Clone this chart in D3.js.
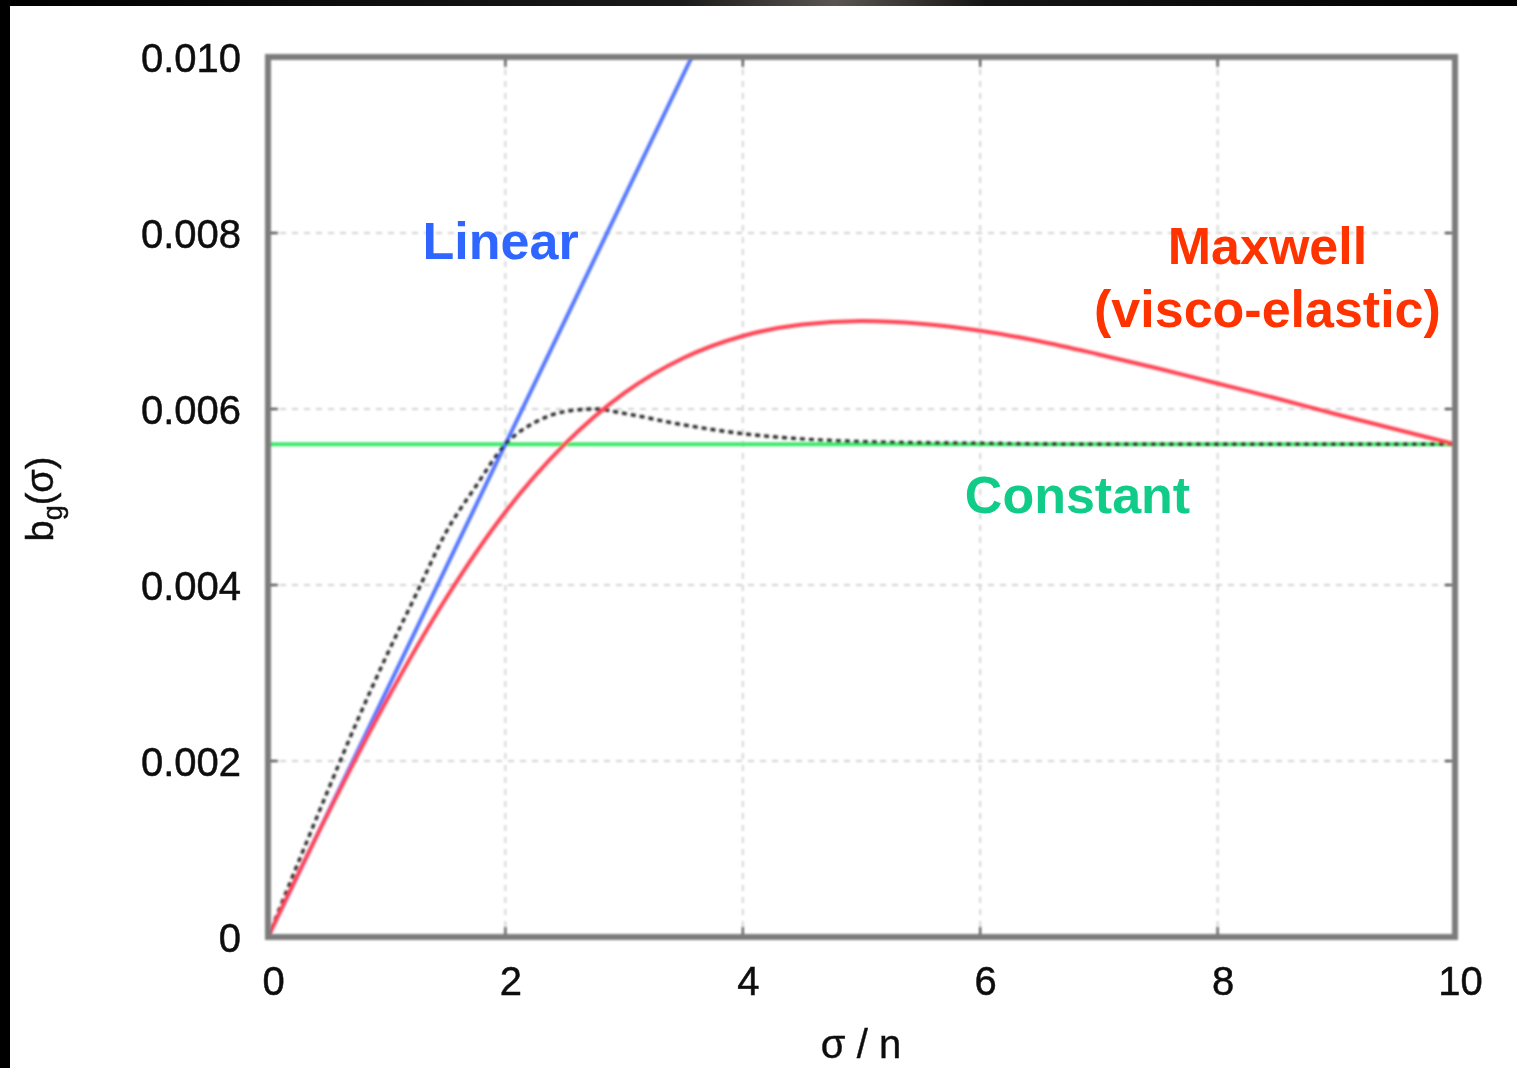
<!DOCTYPE html>
<html>
<head>
<meta charset="utf-8">
<script src="https://cdn.jsdelivr.net/npm/d3@7"></script>
<style>
  html, body { margin: 0; padding: 0; background: #000; }
  svg { display: block; }
  text { font-family: "Liberation Sans", Arial, Helvetica, sans-serif; }
</style>
</head>
<body>
<svg id="chart" width="1517" height="1068"></svg>
<script>
// Growth-rate models b_g(σ) versus σ/n

// x positions (σ / n) and values for each model
const linearSigma = [0, 2, 3.57];
const linearValues = [0, 0.0056, 0.0100];

const constantSigma = [0, 10];
const constantValues = [0.0056, 0.0056];

const maxwellSigma = [0, 0.5, 1, 1.5, 2, 2.5, 3, 3.5, 4, 4.5, 5, 5.5, 6, 6.5, 7, 7.5, 8, 8.5, 9, 9.5, 10];
const maxwellValues = [0, 0.00139, 0.00269, 0.00385, 0.00483, 0.00560, 0.00618, 0.00658, 0.00683, 0.00696, 0.00700,
                       0.00697, 0.00689, 0.00677, 0.00662, 0.00646, 0.00629, 0.00612, 0.00594, 0.00577, 0.00560];

const transitionSigma = [0, 0.25, 0.5, 0.75, 1, 1.25, 1.5, 1.75, 2, 2.25, 2.5, 2.75, 3, 3.5, 4, 4.5, 5, 6, 7, 8, 9, 10];
const transitionValues = [0, 0.00083, 0.00165, 0.00245, 0.00320, 0.00390, 0.00460, 0.00512, 0.00560, 0.00585, 0.00597,
                          0.00600, 0.00595, 0.00582, 0.00572, 0.00566, 0.00563, 0.00561, 0.00560, 0.00560, 0.00560, 0.00560];

// Axis ticks
const xTicks = [0, 2, 4, 6, 8, 10];
const yTicks = [0, 0.002, 0.004, 0.006, 0.008, 0.010];
const yTickLabels = ["0", "0.002", "0.004", "0.006", "0.008", "0.010"];

// Curve annotations
const annotations = [
  { lines: ["Linear"], sigma: 1.96, value: 0.0077, color: "#2f66ff" },
  { lines: ["Maxwell", "(visco-elastic)"], sigma: 8.42, value: 0.00765, color: "#ff3300" },
  { lines: ["Constant"], sigma: 6.82, value: 0.00482, color: "#11cc88" }
];

const svg = d3.select("#chart");
const W = 1517, H = 1068;
const plot = { left: 268, right: 1455, top: 57, bottom: 937 };

// Photo border
svg.append("rect").attr("width", W).attr("height", H).attr("fill", "#000");
const defs = svg.append("defs");
const topGrad = defs.append("linearGradient").attr("id", "topGlow");
topGrad.append("stop").attr("offset", "0%").attr("stop-color", "#000");
topGrad.append("stop").attr("offset", "45%").attr("stop-color", "#1a1a1a");
topGrad.append("stop").attr("offset", "55%").attr("stop-color", "#5a5550");
topGrad.append("stop").attr("offset", "65%").attr("stop-color", "#151515");
topGrad.append("stop").attr("offset", "100%").attr("stop-color", "#000");
svg.append("rect").attr("x", 0).attr("y", 0).attr("width", W).attr("height", 6).attr("fill", "url(#topGlow)");
svg.append("rect").attr("x", 10).attr("y", 6).attr("width", W - 10).attr("height", H - 6).attr("fill", "#fff");

defs.append("filter").attr("id", "soft")
  .append("feGaussianBlur").attr("stdDeviation", 0.9);
defs.append("filter").attr("id", "softText")
  .append("feGaussianBlur").attr("stdDeviation", 0.45);
defs.append("clipPath").attr("id", "plotClip")
  .append("rect").attr("x", plot.left).attr("y", plot.top)
  .attr("width", plot.right - plot.left).attr("height", plot.bottom - plot.top);

const x = d3.scaleLinear().domain([0, 10]).range([plot.left, plot.right]);
const y = d3.scaleLinear().domain([0, 0.010]).range([plot.bottom, plot.top]);

// Grid lines
const grid = svg.append("g").attr("filter", "url(#soft)");
grid.selectAll("line.vg").data(xTicks.slice(1, -1)).join("line")
  .attr("x1", d => x(d)).attr("x2", d => x(d))
  .attr("y1", plot.top).attr("y2", plot.bottom)
  .attr("stroke", "#d0d0d0").attr("stroke-width", 1.8).attr("stroke-dasharray", "6,6");
grid.selectAll("line.hg").data(yTicks.slice(1, -1)).join("line")
  .attr("x1", plot.left).attr("x2", plot.right)
  .attr("y1", d => y(d)).attr("y2", d => y(d))
  .attr("stroke", "#d0d0d0").attr("stroke-width", 1.8).attr("stroke-dasharray", "6,6");

// Curves
const lineGen = d3.line().x(d => x(d[0])).y(d => y(d[1])).curve(d3.curveMonotoneX);
const curves = svg.append("g").attr("clip-path", "url(#plotClip)").append("g").attr("filter", "url(#soft)");

curves.append("path").datum(d3.zip(constantSigma, constantValues))
  .attr("d", lineGen).attr("fill", "none").attr("stroke", "#3ee86a").attr("stroke-width", 4);
curves.append("path").datum(d3.zip(linearSigma, linearValues))
  .attr("d", d3.line().x(d => x(d[0])).y(d => y(d[1])))
  .attr("fill", "none").attr("stroke", "#5577ff").attr("stroke-width", 4);
curves.append("path").datum(d3.zip(transitionSigma, transitionValues))
  .attr("d", lineGen).attr("fill", "none").attr("stroke", "#2a2a2a").attr("stroke-width", 3.4)
  .attr("stroke-dasharray", "5,4");
curves.append("path").datum(d3.zip(maxwellSigma, maxwellValues))
  .attr("d", lineGen).attr("fill", "none").attr("stroke", "#ff4455").attr("stroke-width", 4);

// Frame and mirrored inward ticks
const frame = svg.append("g").attr("filter", "url(#soft)");
const tickLen = 10;
const tickG = frame.append("g").attr("stroke", "#555").attr("stroke-width", 2.2);
xTicks.slice(1, -1).forEach(t => {
  tickG.append("line").attr("x1", x(t)).attr("x2", x(t)).attr("y1", plot.bottom).attr("y2", plot.bottom - tickLen);
  tickG.append("line").attr("x1", x(t)).attr("x2", x(t)).attr("y1", plot.top).attr("y2", plot.top + tickLen);
});
yTicks.slice(1, -1).forEach(t => {
  tickG.append("line").attr("x1", plot.left).attr("x2", plot.left + tickLen).attr("y1", y(t)).attr("y2", y(t));
  tickG.append("line").attr("x1", plot.right).attr("x2", plot.right - tickLen).attr("y1", y(t)).attr("y2", y(t));
});
frame.append("rect")
  .attr("x", plot.left).attr("y", plot.top)
  .attr("width", plot.right - plot.left).attr("height", plot.bottom - plot.top)
  .attr("fill", "none").attr("stroke", "#7c7c7c").attr("stroke-width", 6);

// Tick labels (d3 axes with domain and tick lines hidden)
const labels = svg.append("g").attr("filter", "url(#softText)");
const xAxis = d3.axisBottom(x).tickValues(xTicks).tickSize(0).tickPadding(0).tickFormat(d3.format("d"));
const gx = labels.append("g").attr("transform", `translate(5, ${plot.bottom + 58})`).call(xAxis);
gx.select(".domain").remove();
gx.selectAll("text").attr("font-size", 40).attr("fill", "#111")
  .attr("font-family", "'Liberation Sans', Arial, sans-serif").attr("dy", 0)
  .attr("stroke", "#111").attr("stroke-width", 0.5);

const yAxis = d3.axisLeft(y).tickValues(yTicks).tickSize(0).tickPadding(0)
  .tickFormat((d, i) => yTickLabels[i]);
const gy = labels.append("g").attr("transform", `translate(${241}, 0)`).call(yAxis);
gy.select(".domain").remove();
gy.selectAll("text").attr("font-size", 40).attr("fill", "#111")
  .attr("font-family", "'Liberation Sans', Arial, sans-serif").attr("dy", "0.36em")
  .attr("stroke", "#111").attr("stroke-width", 0.5);

// Axis titles
labels.append("text").attr("x", 861).attr("y", 1058).attr("text-anchor", "middle")
  .attr("font-size", 40).attr("fill", "#111").attr("stroke", "#111").attr("stroke-width", 0.4).text("σ / n");

const yTitle = labels.append("text")
  .attr("transform", "translate(53, 499) rotate(-90)")
  .attr("text-anchor", "middle").attr("font-size", 38).attr("fill", "#111")
  .attr("stroke", "#111").attr("stroke-width", 0.4);
yTitle.append("tspan").text("b");
yTitle.append("tspan").attr("font-size", 27).attr("dy", 9).text("g");
yTitle.append("tspan").attr("dy", -9).text("(σ)");

// Annotations
annotations.forEach(a => {
  const t = svg.append("text")
    .attr("x", x(a.sigma)).attr("y", y(a.value))
    .attr("text-anchor", "middle").attr("font-size", 52).attr("font-weight", "bold")
    .attr("fill", a.color);
  a.lines.forEach((ln, i) => {
    t.append("tspan").attr("x", x(a.sigma)).attr("dy", i === 0 ? 0 : 63).text(ln);
  });
});
</script>
</body>
</html>
